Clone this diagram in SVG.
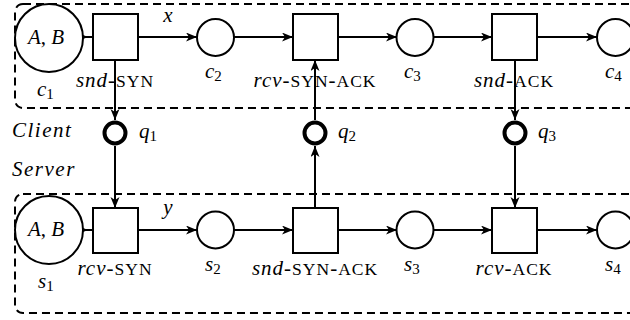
<svg xmlns="http://www.w3.org/2000/svg" width="630" height="320" viewBox="0 0 630 320">
<defs>
<marker id="ah" markerUnits="userSpaceOnUse" markerWidth="12" markerHeight="10" refX="11" refY="4.5" orient="auto">
<path d="M0,0 L11,4.5 L0,9 L3,4.5 z" fill="#000"/>
</marker>
</defs>
<g id="client-box"><rect x="15" y="4" width="700" height="104" rx="8" fill="none" stroke="#000" stroke-width="2" stroke-dasharray="8 5"/></g>
<g id="server-box"><rect x="15" y="194" width="700" height="119" rx="8" fill="none" stroke="#000" stroke-width="2" stroke-dasharray="8 5"/></g>
<g id="connectors" stroke="#000" stroke-width="2" fill="none">
<path d="M83,37 H93"/>
<path d="M77,32.5 L88,37 L77,41.5 L80,37 z" fill="#000" stroke="none"/>
<path marker-end="url(#ah)" d="M138,37 H197"/>
<path marker-end="url(#ah)" d="M234,37 H293"/>
<path marker-end="url(#ah)" d="M338,37 H397"/>
<path marker-end="url(#ah)" d="M433,37 H492"/>
<path marker-end="url(#ah)" d="M538,37 H597"/>
<path d="M83,230 H93"/>
<path d="M77,225.5 L88,230 L77,234.5 L80,230 z" fill="#000" stroke="none"/>
<path marker-end="url(#ah)" d="M138,230 H197"/>
<path marker-end="url(#ah)" d="M234,230 H293"/>
<path marker-end="url(#ah)" d="M338,230 H397"/>
<path marker-end="url(#ah)" d="M433,230 H492"/>
<path marker-end="url(#ah)" d="M538,230 H597"/>
<path marker-end="url(#ah)" d="M115,60 V120"/>
<path marker-end="url(#ah)" d="M115,146 V208"/>
<path marker-end="url(#ah)" d="M315,208 V146"/>
<path marker-end="url(#ah)" d="M315,120 V60"/>
<path marker-end="url(#ah)" d="M515,60 V120"/>
<path marker-end="url(#ah)" d="M515,146 V208"/>
</g>
<text x="168" y="22" text-anchor="middle" font-family="Liberation Serif" font-size="21" font-style="italic" fill="#000">x</text>
<text x="168" y="214" text-anchor="middle" font-family="Liberation Serif" font-size="21" font-style="italic" fill="#000">y</text>

<g id="c1"><circle cx="49" cy="38" r="34" fill="#fff" stroke="#000" stroke-width="2"/>
<text x="28" y="44" font-family="Liberation Serif" font-size="21" font-style="italic">A<tspan font-style="normal">,</tspan> B</text>
<text x="37" y="96" font-family="Liberation Serif" font-size="21" font-style="italic">c<tspan dy="3" font-size="15" font-style="normal">1</tspan></text></g>
<g id="snd-SYN"><rect x="93" y="14" width="45" height="46" fill="#fff" stroke="#000" stroke-width="2"/>
<text x="115" y="87" text-anchor="middle" font-family="Liberation Serif" font-size="21" letter-spacing="1"><tspan font-style="italic">snd</tspan>-<tspan font-size="17.5">SYN</tspan></text></g>
<g id="c2"><circle cx="215.5" cy="37.5" r="18.5" fill="#fff" stroke="#000" stroke-width="2"/>
<text x="205" y="78" font-family="Liberation Serif" font-size="21" font-style="italic">c<tspan dy="3" font-size="15" font-style="normal">2</tspan></text></g>
<g id="rcv-SYN-ACK"><rect x="293" y="14" width="45" height="46" fill="#fff" stroke="#000" stroke-width="2"/>
<text x="315" y="87" text-anchor="middle" font-family="Liberation Serif" font-size="21" letter-spacing="1"><tspan font-style="italic">rcv</tspan>-<tspan font-size="17.5">SYN</tspan>-<tspan font-size="17.5">ACK</tspan></text></g>
<g id="c3"><circle cx="415" cy="37.5" r="18.5" fill="#fff" stroke="#000" stroke-width="2"/>
<text x="404" y="78" font-family="Liberation Serif" font-size="21" font-style="italic">c<tspan dy="3" font-size="15" font-style="normal">3</tspan></text></g>
<g id="snd-ACK"><rect x="492" y="14" width="45" height="46" fill="#fff" stroke="#000" stroke-width="2"/>
<text x="514" y="87" text-anchor="middle" font-family="Liberation Serif" font-size="21" letter-spacing="1"><tspan font-style="italic">snd</tspan>-<tspan font-size="17.5">ACK</tspan></text></g>
<g id="c4"><circle cx="615.5" cy="37.5" r="18.5" fill="#fff" stroke="#000" stroke-width="2"/>
<text x="605" y="78" font-family="Liberation Serif" font-size="21" font-style="italic">c<tspan dy="3" font-size="15" font-style="normal">4</tspan></text></g>

<g id="q1"><circle cx="115" cy="133" r="10.5" fill="#fff" stroke="#000" stroke-width="4"/>
<text x="139" y="138" font-family="Liberation Serif" font-size="21" font-style="italic">q<tspan dy="3" font-size="15" font-style="normal">1</tspan></text></g>
<g id="q2"><circle cx="315" cy="133" r="10.5" fill="#fff" stroke="#000" stroke-width="4"/>
<text x="338" y="138" font-family="Liberation Serif" font-size="21" font-style="italic">q<tspan dy="3" font-size="15" font-style="normal">2</tspan></text></g>
<g id="q3"><circle cx="515" cy="133" r="10.5" fill="#fff" stroke="#000" stroke-width="4"/>
<text x="538" y="138" font-family="Liberation Serif" font-size="21" font-style="italic">q<tspan dy="3" font-size="15" font-style="normal">3</tspan></text></g>

<g id="labels">
<text x="12" y="137" font-family="Liberation Serif" font-size="21" font-style="italic" letter-spacing="1.5">Client</text>
<text x="12" y="176" font-family="Liberation Serif" font-size="21" font-style="italic" letter-spacing="1.5">Server</text>
</g>

<g id="s1"><circle cx="49" cy="230" r="34" fill="#fff" stroke="#000" stroke-width="2"/>
<text x="28" y="236" font-family="Liberation Serif" font-size="21" font-style="italic">A<tspan font-style="normal">,</tspan> B</text>
<text x="38" y="288" font-family="Liberation Serif" font-size="21" font-style="italic">s<tspan dy="3" font-size="15" font-style="normal">1</tspan></text></g>
<g id="rcv-SYN"><rect x="93" y="208" width="45" height="45" fill="#fff" stroke="#000" stroke-width="2"/>
<text x="115" y="275" text-anchor="middle" font-family="Liberation Serif" font-size="21" letter-spacing="1"><tspan font-style="italic">rcv</tspan>-<tspan font-size="17.5">SYN</tspan></text></g>
<g id="s2"><circle cx="215.5" cy="230" r="18.5" fill="#fff" stroke="#000" stroke-width="2"/>
<text x="205" y="271" font-family="Liberation Serif" font-size="21" font-style="italic">s<tspan dy="3" font-size="15" font-style="normal">2</tspan></text></g>
<g id="snd-SYN-ACK"><rect x="293" y="208" width="45" height="45" fill="#fff" stroke="#000" stroke-width="2"/>
<text x="315" y="275" text-anchor="middle" font-family="Liberation Serif" font-size="21" letter-spacing="1"><tspan font-style="italic">snd</tspan>-<tspan font-size="17.5">SYN</tspan>-<tspan font-size="17.5">ACK</tspan></text></g>
<g id="s3"><circle cx="415" cy="230" r="18.5" fill="#fff" stroke="#000" stroke-width="2"/>
<text x="404" y="271" font-family="Liberation Serif" font-size="21" font-style="italic">s<tspan dy="3" font-size="15" font-style="normal">3</tspan></text></g>
<g id="rcv-ACK"><rect x="492" y="208" width="45" height="45" fill="#fff" stroke="#000" stroke-width="2"/>
<text x="514" y="275" text-anchor="middle" font-family="Liberation Serif" font-size="21" letter-spacing="1"><tspan font-style="italic">rcv</tspan>-<tspan font-size="17.5">ACK</tspan></text></g>
<g id="s4"><circle cx="615.5" cy="230" r="18.5" fill="#fff" stroke="#000" stroke-width="2"/>
<text x="605" y="271" font-family="Liberation Serif" font-size="21" font-style="italic">s<tspan dy="3" font-size="15" font-style="normal">4</tspan></text></g>
</svg>
